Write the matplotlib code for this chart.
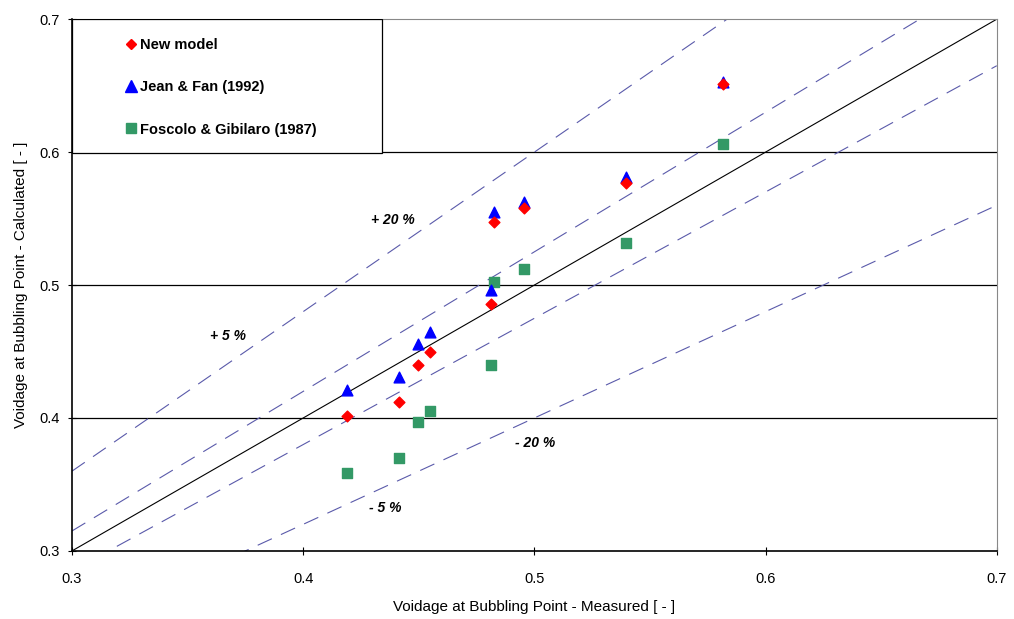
import matplotlib.pyplot as plt
from matplotlib.patches import Rectangle
from matplotlib.lines import Line2D

plt.rcParams['font.family'] = ['Liberation Sans', 'DejaVu Sans']

# Datos
medido = [0.4188, 0.4414, 0.4496, 0.4548, 0.4814, 0.4826, 0.4955, 0.5396, 0.5815]
nuevo_modelo = [0.4015, 0.4123, 0.4396, 0.4500, 0.4855, 0.5476, 0.5577, 0.5764, 0.6515]
jean_fan = [0.4210, 0.4310, 0.4560, 0.4650, 0.4962, 0.5550, 0.5627, 0.5810, 0.6529]
foscolo = [0.3589, 0.3697, 0.3968, 0.4055, 0.4398, 0.5025, 0.5120, 0.5320, 0.6058]

# Rectas de desviacion
factores = [1.2, 1.05, 0.95, 0.8]
etiquetas = ['+ 20 %', '+ 5 %', '- 20 %', '- 5 %']
pos_etiquetas = [(0.4295, 0.549), (0.3595, 0.462), (0.4915, 0.381), (0.4285, 0.332)]

fig = plt.figure(figsize=(10.14, 6.19), dpi=100)
ax = fig.add_axes([0.071, 0.110, 0.912, 0.859])

ax.set_xlim(0.3, 0.7)
ax.set_ylim(0.3, 0.7)

for y in [0.4, 0.5, 0.6]:
    ax.axhline(y, color='black', lw=0.9, zorder=1)

xs = [0.3, 0.7]
ax.plot(xs, xs, color='black', lw=0.8, zorder=2)
for f in factores:
    ax.plot(xs, [f * x for x in xs], color='#5a5aaa', lw=0.8,
            dashes=(14, 9), zorder=2)

for txt, (tx, ty) in zip(etiquetas, pos_etiquetas):
    ax.text(tx, ty, txt, fontsize=10, fontweight='bold', fontstyle='italic',
            ha='left', va='center')

ax.scatter(medido, foscolo, marker='s', s=48, color='#339966', zorder=3)
ax.scatter(medido, jean_fan, marker='^', s=60, color='#0000ff', zorder=4)
ax.scatter(medido, nuevo_modelo, marker='D', s=30, color='#ff0000', zorder=5)

# Cuadro de leyenda
ax.add_patch(Rectangle((0.0, 0.748), 0.335, 0.252, transform=ax.transAxes,
                       facecolor='white', edgecolor='black', lw=0.9, zorder=6))
handles = [
    Line2D([], [], ls='none', marker='D', color='#ff0000', markersize=5.5),
    Line2D([], [], ls='none', marker='^', color='#0000ff', markersize=8),
    Line2D([], [], ls='none', marker='s', color='#339966', markersize=7),
]
leg = ax.legend(handles, ['New model', 'Jean & Fan (1992)', 'Foscolo & Gibilaro (1987)'],
                loc='upper left', bbox_to_anchor=(0.045, 0.99), frameon=False,
                prop={'weight': 'bold', 'size': 10.5}, handlelength=0.6,
                handletextpad=0.3, labelspacing=1.95)
leg.set_zorder(7)

ax.set_xticks([0.3, 0.4, 0.5, 0.6, 0.7])
ax.set_yticks([0.3, 0.4, 0.5, 0.6, 0.7])
ax.set_xticklabels(['0.3', '0.4', '0.5', '0.6', '0.7'])
ax.set_yticklabels(['0.3', '0.4', '0.5', '0.6', '0.7'])
ax.tick_params(labelsize=10.5, direction='inout', length=6)
ax.tick_params(axis='x', pad=12)
ax.tick_params(axis='y', pad=6)

for s in ['left', 'bottom']:
    ax.spines[s].set_linewidth(1.2)
for s in ['top', 'right']:
    ax.spines[s].set_color('#888888')
    ax.spines[s].set_linewidth(0.8)

ax.set_xlabel('Voidage at Bubbling Point - Measured [ - ]', fontsize=11, labelpad=10)
ax.set_ylabel('Voidage at Bubbling Point - Calculated [ - ]', fontsize=11, labelpad=8)

plt.savefig('out.png', dpi=100)
